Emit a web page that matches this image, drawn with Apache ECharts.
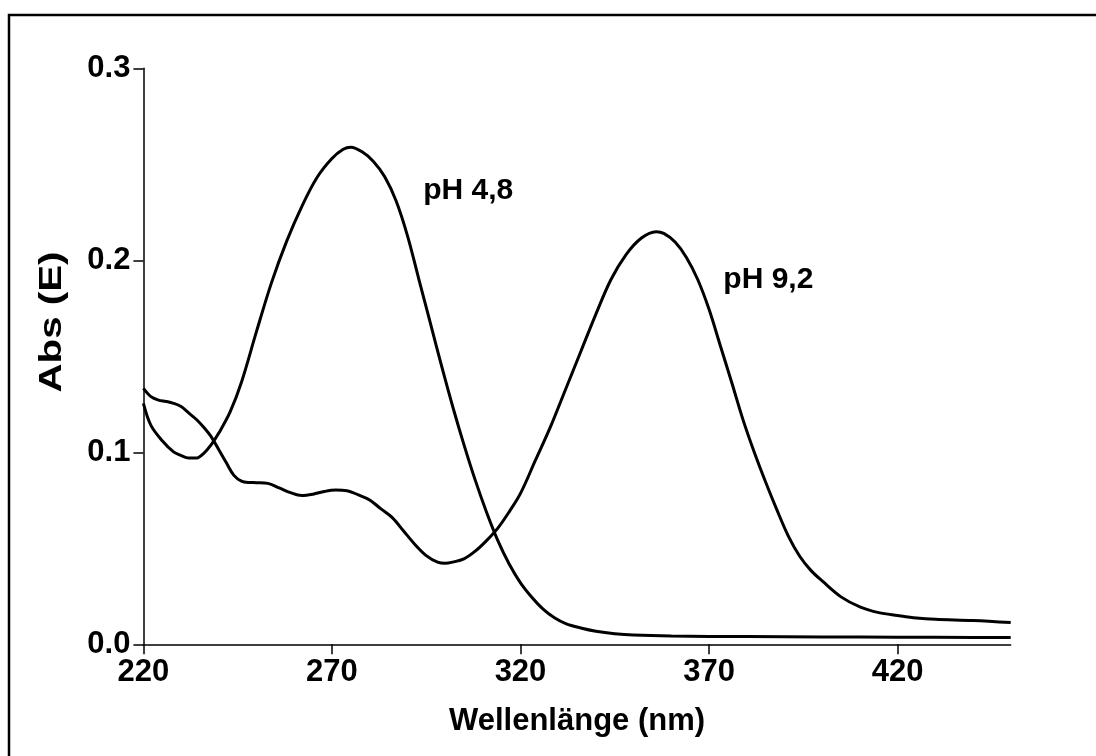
<!DOCTYPE html>
<html>
<head>
<meta charset="utf-8">
<script src="https://cdn.jsdelivr.net/npm/echarts@6/dist/echarts.min.js"></script>
<style>
html,body{margin:0;padding:0;background:#fff;}
#chart{width:1096px;height:756px;}
</style>
</head>
<body>
<div id="chart"></div>
<script>
// ---- data ----
const xTicks = [220, 270, 320, 370, 420];
const yTicks = [0.0, 0.1, 0.2, 0.3];

const nmPH48 = [220,222,225,228,230,232,234,236,238,240,243,246,250,254,258,262,266,270,273,275,278,281,284,287,290,293,296,299,302,305,308,311,314,317,320,323,326,329,332,336,340,345,350,360,380,400,420,440,450];
const absPH48 = [0.1255,0.114,0.106,0.1002,0.0983,0.0970,0.0970,0.0995,0.1040,0.1100,0.1210,0.1365,0.1630,0.1885,0.2100,0.2280,0.2430,0.2530,0.2578,0.2589,0.2565,0.2515,0.2435,0.2310,0.2130,0.1905,0.1680,0.1455,0.1240,0.1040,0.0855,0.0688,0.0540,0.0418,0.0320,0.0245,0.0183,0.0138,0.0108,0.0085,0.0068,0.0055,0.0048,0.0043,0.0040,0.0038,0.0037,0.0036,0.0035];

const nmPH92 = [220,222,224,226,228,230,232,234,236,238,240,242,244,246,248,250,253,256,259,262,265,268,271,274,277,280,283,286,289,292,295,298,300,302,305,308,311,314,317,320,324,328,332,336,340,344,348,352,356,358,361,364,367,370,373,376,379,382,385,388,391,394,397,400,405,410,415,420,425,430,440,450];
const absPH92 = [0.1333,0.1290,0.1272,0.1265,0.1255,0.1238,0.1205,0.1172,0.1130,0.1080,0.1013,0.0945,0.0880,0.0850,0.0843,0.0842,0.0838,0.0815,0.0790,0.0775,0.0782,0.0796,0.0803,0.0800,0.0778,0.0752,0.0705,0.0660,0.0590,0.0520,0.0462,0.0428,0.0422,0.0428,0.0445,0.0485,0.0540,0.0605,0.0690,0.0786,0.0960,0.1135,0.1330,0.1525,0.1720,0.1900,0.2030,0.2115,0.2149,0.2140,0.2095,0.2015,0.1900,0.1745,0.1555,0.1365,0.1170,0.1000,0.0845,0.0700,0.0565,0.0460,0.0385,0.0330,0.0247,0.0195,0.0165,0.0150,0.0137,0.0130,0.0124,0.0113];

const seriesNames = ['pH 4,8', 'pH 9,2'];
const xTitle = 'Wellenlänge (nm)';
const yTitle = 'Abs (E)';

// ---- chart ----
const FONT = '"Liberation Sans", Arial, sans-serif';
const chart = echarts.init(document.getElementById('chart'), null, {renderer: 'canvas'});

function pairs(xs, ys) { return xs.map((x, i) => [x, ys[i]]); }

const axisLineStyle = {color: '#000', width: 1.5};
const option = {
  animation: false,
  backgroundColor: '#fff',
  grid: {left: 143.4, right: 85.3, top: 68.3, bottom: 111.7, containLabel: false},
  xAxis: {
    type: 'value', min: 220, max: 450, interval: 50,
    axisLine: {show: true, onZero: false, lineStyle: axisLineStyle},
    axisTick: {show: true, inside: false, length: 10, lineStyle: axisLineStyle, customValues: xTicks},
    axisLabel: {show: true, margin: 13, color: '#000', fontFamily: FONT, fontWeight: 'bold', fontSize: 31, customValues: xTicks},
    splitLine: {show: false},
    name: xTitle, nameLocation: 'middle', nameGap: 62,
    nameTextStyle: {color: '#000', fontFamily: FONT, fontWeight: 'bold', fontSize: 31}
  },
  yAxis: {
    type: 'value', min: 0, max: 0.3, interval: 0.1,
    axisLine: {show: true, onZero: false, lineStyle: axisLineStyle},
    axisTick: {show: true, inside: false, length: 10, lineStyle: axisLineStyle},
    axisLabel: {show: true, margin: 13, color: '#000', fontFamily: FONT, fontWeight: 'bold', fontSize: 31,
      formatter: v => v.toFixed(1)},
    splitLine: {show: false}
  },
  series: [
    {name: seriesNames[0], type: 'line', data: pairs(nmPH48, absPH48), smooth: 0.35, showSymbol: false,
     lineStyle: {color: '#000', width: 3}, clip: true},
    {name: seriesNames[1], type: 'line', data: pairs(nmPH92, absPH92), smooth: 0.35, showSymbol: false,
     lineStyle: {color: '#000', width: 3}, clip: true}
  ]
};
chart.setOption(option);

// annotations anchored in data coordinates
const annot = [
  {text: seriesNames[0], at: [294.2, 0.2361]},
  {text: seriesNames[1], at: [373.8, 0.1900]}
];
const graphics = [
  {type: 'rect', shape: {x: 9, y: 15, width: 1100, height: 760}, style: {fill: 'none', stroke: '#000', lineWidth: 2.5}, silent: true, z: 0},
  {type: 'text', x: 52, y: 322, rotation: Math.PI / 2, scaleX: 1.3, style: {text: yTitle, fill: '#000', font: 'bold 31px ' + FONT, textAlign: 'center', textVerticalAlign: 'middle'}, z: 10}
];
annot.forEach(a => {
  const p = chart.convertToPixel({gridIndex: 0}, a.at);
  graphics.push({type: 'text', x: p[0], y: p[1], style: {text: a.text, fill: '#000', font: 'bold 30px ' + FONT, textAlign: 'left', textVerticalAlign: 'middle'}, z: 10});
});
chart.setOption({graphic: graphics});
</script>
</body>
</html>
